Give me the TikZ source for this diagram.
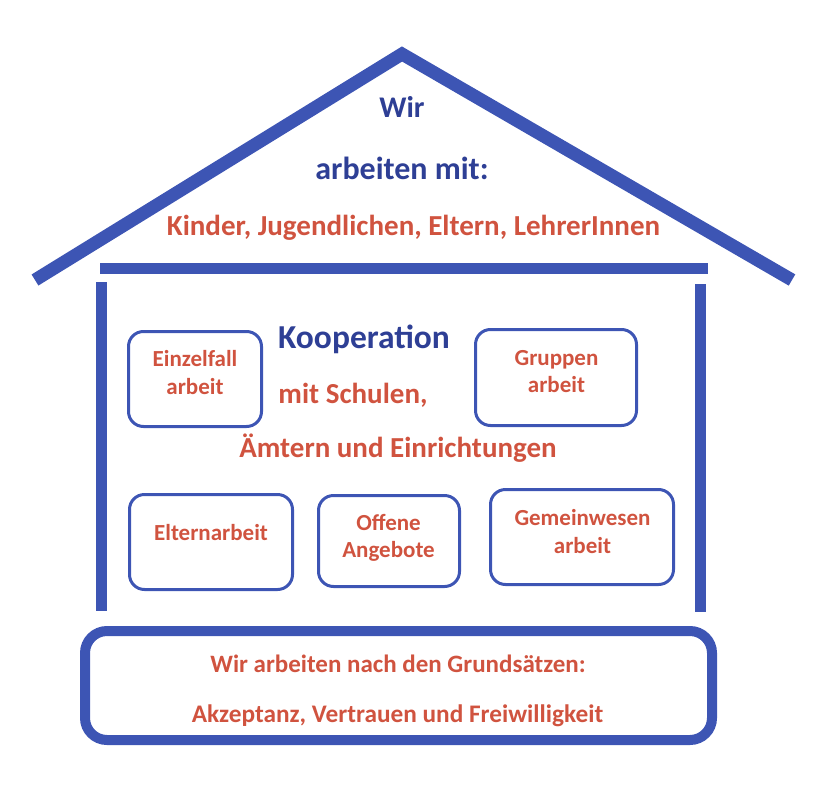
\documentclass[tikz,border=0pt]{standalone}
\usepackage{fontspec}
\setmainfont{Carlito}
\usetikzlibrary{calc,positioning}
\definecolor{hausblau}{HTML}{3D55B4}
\definecolor{textblau}{HTML}{2E3F95}
\definecolor{textrot}{HTML}{D0533F}
\tikzstyle{balken}=[hausblau,line width=12pt,line cap=butt]
\tikzstyle{kasten}=[draw=hausblau,line width=3pt,rounded corners=15pt,inner sep=0pt]
\tikzstyle{blautext}=[textblau,font=\bfseries\fontsize{32}{34}\selectfont,inner sep=0pt,anchor=base]
\tikzstyle{rottext}=[textrot,font=\bfseries\fontsize{29}{30}\selectfont,inner sep=0pt,anchor=base]
\tikzstyle{kastentext}=[textrot,font=\bfseries\fontsize{23}{28}\selectfont,inner sep=0pt,anchor=base]

\begin{document}
\begin{tikzpicture}[x=1pt,y=-1pt]
\useasboundingbox (0,0) rectangle (832,784);
% roof
\coordinate (dachL) at (35,280);
\coordinate (first) at (402,54);
\coordinate (dachR) at (792,280);
\draw[balken,line width=13pt,line join=miter] (dachL) -- (first) -- (dachR);
\node[blautext,font=\bfseries\fontsize{30}{34}\selectfont] (wir) at (402,117) {Wir};
\node[blautext] (mit) at (402,179) {arbeiten mit:};
\node[rottext] (kinder) at (413.5,235) {Kinder, Jugendlichen, Eltern, LehrerInnen};

% beam and walls
\coordinate (balkenL) at (100,268.5);
\coordinate (balkenR) at (708,268.5);
\draw[balken,line width=11pt] (balkenL) -- (balkenR);
\coordinate (wandLo) at (101,282);
\coordinate (wandLu) at (101,611);
\coordinate (wandRo) at (700,284);
\coordinate (wandRu) at (700,612);
\draw[balken,line width=11pt] (wandLo) -- (wandLu);
\draw[balken,line width=11pt] (wandRo) -- (wandRu);

% middle
\node[blautext,font=\bfseries\fontsize{33.5}{34}\selectfont] (koop) at (364,348) {Kooperation};
\node[rottext] (schulen) at (353,403) {mit Schulen,};
\node[rottext] (aemter) at (398,457.5) {Ämtern und Einrichtungen};

\node[kasten,minimum width=133pt,minimum height=95pt] (einzelfall) at (195,379) {};
\node[kastentext] (einzelfall1) at (195,366) {Einzelfall};
\node[kastentext] (einzelfall2) at (195,394) {arbeit};
\node[kasten,minimum width=161pt,minimum height=96pt] (gruppen) at (556,377.5) {};
\node[kastentext] (gruppen1) at (556.5,365) {Gruppen};
\node[kastentext] (gruppen2) at (556.5,392) {arbeit};
\node[kasten,minimum width=163pt,minimum height=95pt] (eltern) at (211,542) {};
\node[kastentext] (eltern1) at (211,540) {Elternarbeit};
\node[kasten,minimum width=141pt,minimum height=91pt] (offene) at (389,541) {};
\node[kastentext] (offene1) at (388.5,530) {Offene};
\node[kastentext] (offene2) at (388.5,557) {Angebote};
\node[kasten,minimum width=183pt,minimum height=95pt] (gemeinwesen) at (582,537) {};
\node[kastentext] (gemeinwesen1) at (582.5,525) {Gemeinwesen};
\node[kastentext] (gemeinwesen2) at (582.5,553.5) {arbeit};

% foundation
\node[kasten,line width=10pt,rounded corners=22pt,minimum width=627pt,minimum height=109pt] (grund) at (398.5,685.5) {};
\node[rottext,font=\bfseries\fontsize{25}{30}\selectfont] (grund1) at (398,672) {Wir arbeiten nach den Grundsätzen:};
\node[rottext,font=\bfseries\fontsize{25.3}{30}\selectfont] (grund2) at (397.5,722) {Akzeptanz, Vertrauen und Freiwilligkeit};
\end{tikzpicture}
\end{document}
